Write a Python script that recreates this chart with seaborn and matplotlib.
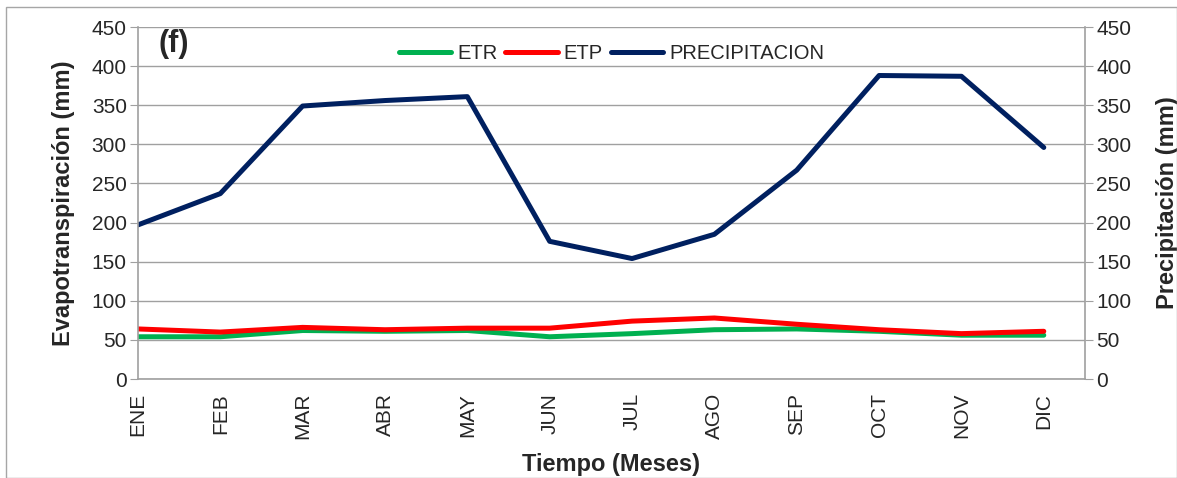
import matplotlib.pyplot as plt
import matplotlib.patches as patches
import numpy as np
import pandas as pd
import seaborn as sns

# ─── DATA ────────────────────────────────────────────────────────────────
meses = ["ENE", "FEB", "MAR", "ABR", "MAY", "JUN",
         "JUL", "AGO", "SEP", "OCT", "NOV", "DIC"]
etr = [54, 54, 62, 61, 62, 54, 58, 63, 64, 61, 56, 56]
etp = [64, 60, 66, 63, 65, 65, 74, 78, 70, 63, 58, 61]
precip = [197, 237, 349, 356, 361, 176, 154, 185, 267, 388, 387, 296]

GREEN = "#00B050"
RED   = "#FF0000"
NAVY  = "#002060"
GRID  = "#A0A0A0"

sns.set_style("white")
plt.rcParams['font.family'] = ['Liberation Sans', 'DejaVu Sans']

df = pd.DataFrame({"mes": meses, "x": np.arange(len(meses)),
                   "ETR": etr, "ETP": etp, "PRECIPITACION": precip})

fig = plt.figure(figsize=(11.77, 4.78), dpi=100)
ax = fig.add_axes([0.1172, 0.2071, 0.8046, 0.7364])

# marco exterior
fig.patches.append(patches.Rectangle((0.005, 0.0), 0.995, 0.985, transform=fig.transFigure,
                                     fill=False, edgecolor="#A6A6A6", linewidth=1))

LW = 3.6
sns.lineplot(data=df, x="x", y="ETR", ax=ax, color=GREEN, linewidth=LW, label="ETR")
sns.lineplot(data=df, x="x", y="ETP", ax=ax, color=RED, linewidth=LW, label="ETP")
sns.lineplot(data=df, x="x", y="PRECIPITACION", ax=ax, color=NAVY, linewidth=LW,
             label="PRECIPITACION")

ax.set_xlim(0, 11.5)
ax.set_ylim(0, 450)
ax.set_yticks(np.arange(0, 451, 50))
ax.set_xticks(df["x"])
ax.set_xticklabels(meses, rotation=90, fontsize=15)
ax.tick_params(axis='y', labelsize=15, direction='out', length=6, color=GRID, pad=2)
ax.tick_params(axis='x', direction='out', length=6, color=GRID, pad=4)
ax.grid(axis='y', color=GRID, linewidth=1)
ax.set_axisbelow(True)
for s in ['left', 'bottom', 'right']:
    ax.spines[s].set_color(GRID)
    ax.spines[s].set_linewidth(1.2)
ax.spines['top'].set_visible(False)

ax.set_xlabel("Tiempo (Meses)", fontsize=17, fontweight='bold', labelpad=10)
ax.set_ylabel("Evapotranspiración (mm)", fontsize=17, fontweight='bold', labelpad=12)

# eje derecho
ax2 = ax.twinx()
ax2.set_ylim(0, 450)
ax2.set_yticks(np.arange(0, 451, 50))
ax2.tick_params(axis='y', labelsize=15, direction='out', length=6, color=GRID, pad=2)
for s in ['left', 'bottom', 'right', 'top']:
    ax2.spines[s].set_visible(False)
ax2.set_ylabel("Precipitación (mm)", fontsize=17, fontweight='bold', labelpad=18)

ax.text(0.022, 0.995, "(f)", transform=ax.transAxes, fontsize=22, fontweight='bold',
        va='top', ha='left')

ax.legend(loc='upper center', bbox_to_anchor=(0.5, 0.98), ncol=3, frameon=False,
          fontsize=14.5, handlelength=2.6, columnspacing=0.4, handletextpad=0.3,
          borderaxespad=0.1)

plt.savefig("out.png", dpi=100)
